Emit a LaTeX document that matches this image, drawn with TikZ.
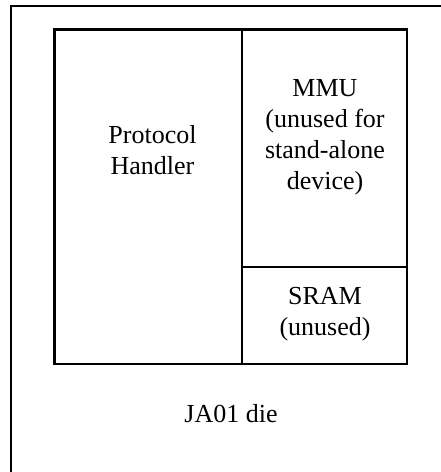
\documentclass[tikz,border=0pt]{standalone}
\usepackage{fontspec}
\setmainfont{Liberation Serif}
\begin{document}
\begin{tikzpicture}[x=1pt,y=-1pt]
\tikzstyle{blocktext}=[align=center, inner sep=0pt, anchor=base, font=\fontsize{26}{31}\selectfont]
\tikzstyle{wall}=[line width=2.2pt]
\useasboundingbox (0,0) rectangle (441,472);
\clip (0,0) rectangle (441,472);
% corners of the blocks
\coordinate (dietl) at (11,6);
\coordinate (diebr) at (470,500);
\coordinate (chiptl) at (54.5,29.5);
\coordinate (chipbr) at (407,364);
\coordinate (splittop) at (242,29.5);
\coordinate (splitbot) at (242,364);
\coordinate (sramtl) at (242,267);
\coordinate (sramtr) at (407,267);
\draw[line width=1.5pt] (dietl) rectangle (diebr);
\draw[wall] (chiptl) rectangle (chipbr);
\draw[wall] (splittop) -- (splitbot);
\draw[wall] (sramtl) -- (sramtr);
% base anchor sits on the last line
\node[blocktext](ph) at (152.5,174) {Protocol\\Handler};
\node[blocktext](mmu) at (325,189) {MMU\\(unused for\\stand-alone\\device)};
\node[blocktext](sram) at (325,335) {SRAM\\(unused)};
\node[blocktext](die) at (231,422) {JA01 die};
\end{tikzpicture}
\end{document}
